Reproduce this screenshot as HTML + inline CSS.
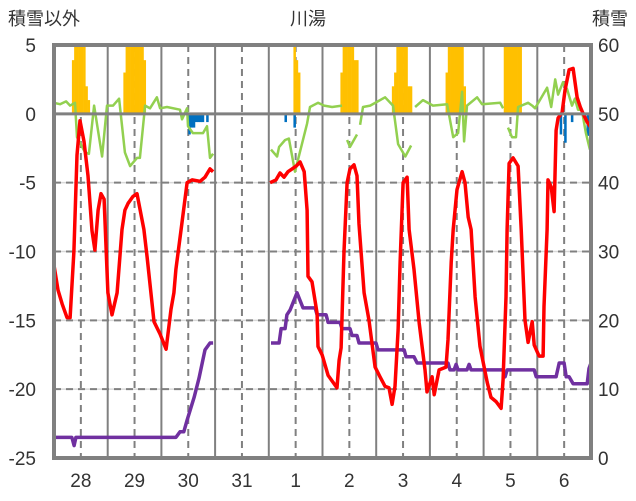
<!DOCTYPE html>
<html><head><meta charset="utf-8">
<style>
html,body{margin:0;padding:0;background:#fff;}
svg{display:block;font-family:"Liberation Sans","Noto Sans CJK JP",sans-serif;}
</style></head>
<body>
<svg id="chart" width="636" height="501" viewBox="0 0 636 501">
<defs><clipPath id="pc"><rect x="54" y="45" width="537" height="413"/></clipPath></defs>
<text x="8" y="25" font-size="18" fill="#333">積雪以外</text>
<text x="308" y="25" font-size="18" fill="#333" text-anchor="middle">川湯</text>
<text x="628" y="25" font-size="18" fill="#333" text-anchor="end">積雪</text>
<g id="grid"></g><g id="bars" clip-path="url(#pc)"></g><g id="lines" clip-path="url(#pc)"></g><g id="axes"></g>
</svg>
<script>
// x in hours since start of day 28 (0..240); left axis °C (-25..5); right axis snow depth (0..60)
const dayLabels = ["28","29","30","31","1","2","3","4","5","6"];
const leftTicks = [5,0,-5,-10,-15,-20,-25];
const rightTicks = [60,50,40,30,20,10,0];

const tempHours = [0,1.8,3.6,5.8,7.2,8.9,10.3,11.6,13.4,15.2,17,18.3,19.7,21,22.4,24.1,25.9,28.2,30.4,31.7,33.1,35.3,37.1,40.2,41.6,44.7,47.4,50.1,52.3,53.6,54.5,56.8,59.5,61.7,65.3,67.5,69.7,71.1,null,
96.6,99.2,101,102.8,104.6,106.4,108.2,110,111.8,113.1,113.5,115.3,117.6,118,119.8,122.5,126.5,127.4,128.3,129.6,131,132.3,134.1,135.4,136.3,138.6,140.8,143.5,145.7,148,149.7,151.1,152.4,153.8,154.7,156,157.8,158.7,160.9,163.2,165.8,166.7,169,169.9,172.1,175.2,176.1,177.5,178.4,180.1,182.4,183.7,185.1,186.4,188.2,190.4,193.6,195.3,197.6,199.8,200.7,202,202.5,203.4,205.2,207.4,208.8,210.5,211.9,213.7,214.6,216.8,218.6,219,220.4,220.8,222.2,223.5,224.4,225.3,227.1,228.4,230.2,232,233.8,235.2,236.5,238.3,240];
const tempVals = [-11,-12.8,-13.8,-14.8,-14.8,-10,-3,-0.5,-2,-4.5,-8.5,-9.9,-7,-5.8,-6.2,-13,-14.6,-13,-8.4,-7,-6.5,-6,-5.8,-8.4,-10.4,-15.1,-16,-17.1,-14.2,-13,-11.3,-8.4,-5,-4.8,-4.9,-4.6,-4,-4.2,null,
-5,-4.8,-4.3,-4.6,-4.2,-4,-3.8,-3.5,-4.2,-7,-11.8,-12.2,-14.5,-16.9,-17.5,-19,-19.9,-17.9,-17,-10,-5,-4,-3.7,-4.5,-8,-13,-15,-18.4,-19.1,-19.8,-19.9,-21.1,-19.8,-15.7,-10.8,-5,-4.6,-8.4,-11.3,-15.2,-18.6,-20.2,-19.1,-20.4,-18.6,-18.4,-16.4,-10.8,-8.4,-5.5,-4.2,-5,-7.5,-8.4,-13.3,-16.9,-19.5,-20.6,-20.9,-21.4,-19.3,-13.3,-8.4,-3.6,-3.2,-3.8,-8.4,-15,-16.6,-15.1,-16.8,-17.6,-17.6,-14,-8.4,-4.8,-5.3,-7.1,-1.2,-0.3,0.1,1.7,3.2,3.3,1.2,0.5,0,-0.6,-1.0];

const depthHours = [0,8,9,9.8,54.5,56.3,58,59.5,62.6,64.8,67.5,69.7,71.1,null,
97,100.6,101.5,103.3,104.1,105.5,108.6,111.3,116.7,117.6,121.6,122.5,127.8,128.7,132.3,133.2,135.4,136.3,143.9,144.8,156.5,157.3,160.9,162.3,176.1,177,178.8,179.7,180.6,184.6,185.5,186.4,200.7,201.6,202.5,214.6,215.5,224.4,225.8,228,228.9,230.2,232,238.3,239.1,240];
const depthVals = [3,3,1.8,3,3,3.8,3.8,5.5,8.8,11.6,15.7,16.7,16.7,null,
16.7,16.7,18.8,18.8,20.8,21.5,24,21.8,21.8,20.8,20.8,19.7,19.7,18.8,18.8,17.8,17.8,16.7,16.7,15.7,15.7,14.7,14.7,13.8,13.8,12.8,12.8,13.6,12.8,12.8,13.6,12.8,12.8,11.8,12.8,12.8,11.8,11.8,13.8,13.8,11.8,11.8,10.8,10.8,13,13.8];

const otherHours = [0,2.7,5.4,7.2,9.4,10.3,13.9,15.6,17.9,21.5,23.7,26.4,29.1,31.7,34,37.1,38.4,40.7,42.9,46,47.4,50.5,56.3,57.2,59.5,59.9,62.1,66.6,68.4,69.7,71.1,null,
97,99.7,100.6,103.3,105,107.7,113.1,114.4,118,120.7,124.3,128.7,null,131,132.3,135.4,null,136.8,138.1,141.3,148,151.5,153.8,157,159.6,null,161.4,164.9,169.4,175.7,178.4,180.6,182.4,183.3,184.6,189.1,191.3,199.4,200.7,null,202.9,204.7,206.5,207.4,211.9,213.7,215,220.4,222.2,224,225.3,227.5,229.3,231.5,232.8,234.2,235.9,237.7,239.5];
const otherVals = [0.8,0.7,0.9,0.6,0.8,-1.7,-2.8,-2.9,0.6,-3.1,0.6,0.6,1.1,-2.8,-3.8,-3.2,-3.2,0.6,0.4,1.2,0.4,0.5,0.3,-0.4,0.4,-0.9,-1.4,-1.4,-0.9,-3.2,-2.9,null,
-2.6,-3.1,-2.4,-1.9,-1.8,-4.2,-0.7,0.5,0.8,0.6,0.5,0.6,null,-1.9,-2.4,-1.5,null,-0.8,0.5,0.6,1.2,0.6,-2.2,-3.1,-2.3,null,0.5,1.0,0.6,0.7,-1.7,-1.4,1.6,-2.0,0.6,1.2,0.7,0.8,0.4,null,-1.0,-1.7,-1.7,0.5,0.8,0.6,0.4,1.9,0.5,2.5,1.4,2.3,1.8,0.6,1.1,0.3,0.3,-1.4,-2.6];

const snowHours = [8,9,10,11,12,13,14,15,31,32,33,34,35,36,37,38,39,40,107,108,109,128,129,130,131,132,133,134,135,151,152,153,154,155,156,157,158,159,175,176,177,178,179,180,181,182,183,201,202,203,204,205,206,207,208];
const snowVals = [3.9,6,6,6,6,6,2,1,3,6,6,6,6,6,6,6,6,3.9,6,3.9,3,3,6,6,6,6,6,3.9,3.9,2,3,6,6,6,6,6,2,2,3,6,6,6,6,6,6,5,2,6,6,6,6,6,6,6,6];
const meltHours = [60,61,62,63,64,65,66,68,103,107,226,228,231,238];
const meltVals = [-1.5,-1.0,-1.0,-0.6,-0.6,-0.6,-0.6,-0.6,-0.6,-1.0,-1.5,-2.1,-0.6,-1.6];

const X0=54,X1=591,YT=45,YB=458;
const xs=h=>X0+h*(X1-X0)/240;
const yL=v=>YT+(5-v)*(YB-YT)/30;
const yR=v=>YB-v*(YB-YT)/60;
const NS="http://www.w3.org/2000/svg";
function mk(tag,parent,attrs){const e=document.createElementNS(NS,tag);for(const k in attrs)e.setAttribute(k,attrs[k]);parent.appendChild(e);return e;}
const grid=document.getElementById('grid'),bars=document.getElementById('bars'),lines=document.getElementById('lines'),axes=document.getElementById('axes');

leftTicks.forEach((t,i)=>{
  const y=yL(t);
  if(t!==5&&t!==-25&&t!==0){
    let g=mk('line',grid,{x1:X0,x2:X1,y1:y,y2:y,stroke:'#d9d9d9','stroke-width':1.5});
    
    
    let d=mk('line',grid,{x1:X0,x2:X1,y1:y,y2:y,stroke:'#808080','stroke-width':2,'stroke-dasharray':'7,5'});
    
    
  }
  let tl=mk('text',axes,{x:36,y:y+7,'font-size':19,'text-anchor':'end',fill:'#333'});
  tl.textContent=t;
  
  
  let tr=mk('text',axes,{x:598,y:yR(rightTicks[i])+7,'font-size':19,fill:'#333'});
  tr.textContent=rightTicks[i];
  
  
});
dayLabels.forEach((d,i)=>{
  const xm=xs(i*24+12);
  let v=mk('line',grid,{x1:xm,x2:xm,y1:YT,y2:YB,stroke:'#808080','stroke-width':2,'stroke-dasharray':'7,5'});
  
  
  if(i>0){
    const xd=xs(i*24);
    let s=mk('line',grid,{x1:xd,x2:xd,y1:YT,y2:YB,stroke:'#808080','stroke-width':2});
    
    
  }
  let t=mk('text',axes,{x:xm,y:487,'font-size':19,'text-anchor':'middle',fill:'#333'});
  t.textContent=d;
  
  
});
const w=(X1-X0)/240;
snowHours.forEach((h,i)=>{
  const y=yL(snowVals[i]);
  let r=mk('rect',bars,{x:xs(h),y:y,width:w+0.3,height:yL(0)-y,fill:'#FFC000'});
  
  
});
meltHours.forEach((h,i)=>{
  let r=mk('rect',bars,{x:xs(h),y:yL(0),width:w+0.3,height:yL(meltVals[i])-yL(0),fill:'#0070C0'});
  
  
});
let z=mk('line',axes,{x1:X0,x2:X1,y1:yL(0),y2:yL(0),stroke:'#808080','stroke-width':3});


function path(hs,vs,yf){let d='',pen=false;hs.forEach((h,i)=>{if(h===null||vs[i]===null){pen=false;return;}d+=(pen?'L':'M')+xs(h).toFixed(1)+','+yf(vs[i]).toFixed(1);pen=true;});return d;}
let pg=mk('path',lines,{d:path(otherHours,otherVals,yL),fill:'none',stroke:'#92D050','stroke-width':2.5,'stroke-linejoin':'round'});


let pp=mk('path',lines,{d:path(depthHours,depthVals,yR),fill:'none',stroke:'#7030A0','stroke-width':3.5,'stroke-linejoin':'round'});


let pr=mk('path',lines,{d:path(tempHours,tempVals,yL),fill:'none',stroke:'#FF0000','stroke-width':3.5,'stroke-linejoin':'round'});


let b=mk('rect',axes,{x:X0,y:YT,width:X1-X0,height:YB-YT,fill:'none',stroke:'#808080','stroke-width':4});


</script>
</body></html>
